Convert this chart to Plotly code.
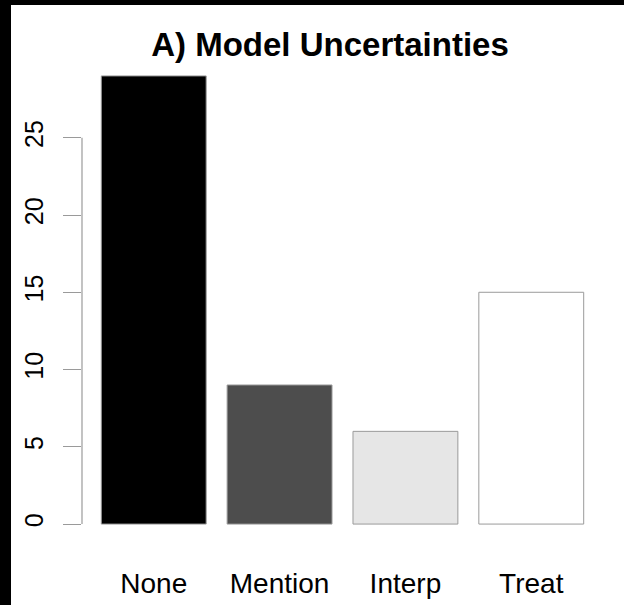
import plotly.graph_objects as go

categories = ["None", "Mention", "Interp", "Treat"]
counts = [29, 9, 6, 15]
fills = ["#000000", "#4d4d4d", "#e6e6e6", "#ffffff"]
tick_vals = [0, 5, 10, 15, 20, 25]

W, H = 624, 605
ML, MR, MT, MB = 82, 21, 58, 63
FONT = "Liberation Sans, Arial, sans-serif"
AXIS_GREY = "#9a9a9a"

ymax = max(counts)
pad = 0.04 * ymax

fig = go.Figure()
fig.add_bar(
    x=categories,
    y=counts,
    marker=dict(color=fills, line=dict(color=AXIS_GREY, width=1)),
    width=1 / 1.2,
    showlegend=False,
)

# R-style y axis line that only spans the tick range
fig.add_shape(type="line", xref="paper", yref="y", x0=0, x1=0,
              y0=tick_vals[0], y1=tick_vals[-1], line=dict(color=AXIS_GREY, width=1.2))

# black edge strips from the scanned figure
pw, ph = W - ML - MR, H - MT - MB
fig.add_shape(type="rect", xref="paper", yref="paper", x0=-ML / pw, x1=(11 - ML) / pw,
              y0=-MB / ph, y1=(H - MB) / ph, fillcolor="black", line_width=0, layer="above")
fig.add_shape(type="rect", xref="paper", yref="paper", x0=-ML / pw, x1=(W - ML) / pw,
              y0=(H - MB - 5) / ph, y1=(H - MB) / ph, fillcolor="black", line_width=0, layer="above")

fig.update_layout(
    width=W, height=H,
    margin=dict(l=ML, r=MR, t=MT, b=MB),
    paper_bgcolor="white", plot_bgcolor="white",
    font=dict(family=FONT, color="black"),
    title=dict(text="<b>A) Model Uncertainties</b>", x=330 / W, xanchor="center",
               y=1 - 44 / H, yanchor="middle", font=dict(size=33, family=FONT)),
)
fig.update_xaxes(
    range=[-0.57, len(categories) - 1 + 0.57],
    showline=False, showgrid=False, zeroline=False, ticks="",
    tickfont=dict(size=28), ticklabelstandoff=22, automargin=False,
)
fig.update_yaxes(
    range=[-pad, ymax + pad],
    tickvals=tick_vals, ticks="outside", ticklen=18, tickcolor=AXIS_GREY, tickwidth=1.2,
    tickangle=-90, tickfont=dict(size=25), ticklabelstandoff=10, automargin=False,
    showline=False, showgrid=False, zeroline=False,
)

fig.write_html("out.html", config={"displayModeBar": False},
               post_script="document.body.style.margin='0';")
